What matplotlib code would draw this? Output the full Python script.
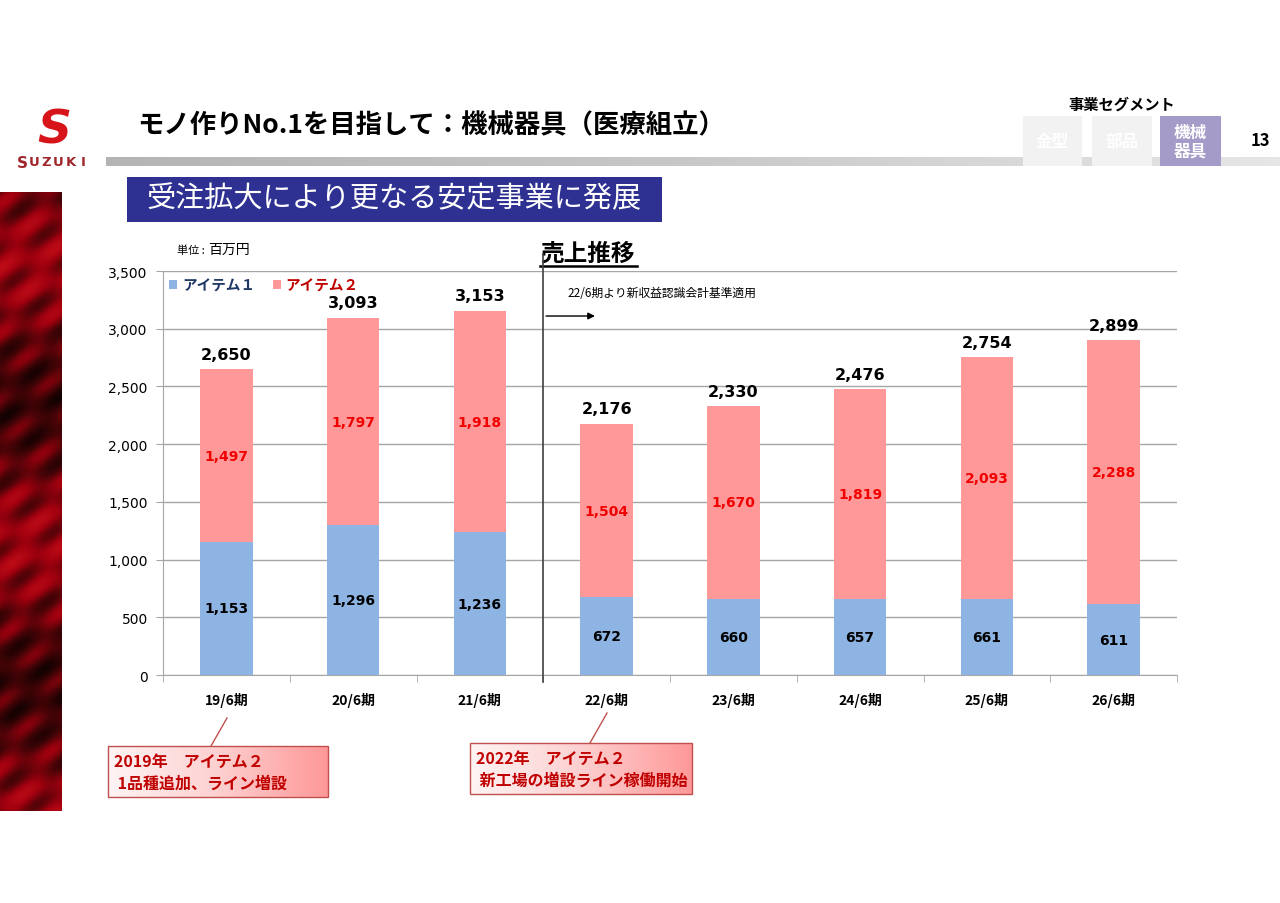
import numpy as np
import matplotlib.pyplot as plt
from matplotlib.patches import Rectangle
from matplotlib.colors import LinearSegmentedColormap

plt.rcParams['font.family'] = ['Noto Sans CJK JP', 'DejaVu Sans']

# ---------------------------------------------------------------------------
# Data
# ---------------------------------------------------------------------------
periods = ["19/6期", "20/6期", "21/6期", "22/6期", "23/6期", "24/6期", "25/6期", "26/6期"]
item1 = [1153, 1296, 1236, 672, 660, 657, 661, 611]
item2 = [1497, 1797, 1918, 1504, 1670, 1819, 2093, 2288]
totals = [2650, 3093, 3153, 2176, 2330, 2476, 2754, 2899]
series_names = ["アイテム１", "アイテム２"]
y_ticks = [0, 500, 1000, 1500, 2000, 2500, 3000, 3500]

C_BLUE = "#8EB4E3"
C_PINK = "#FF9999"
C_RED = "#F00000"
C_DARKRED = "#C00000"
NUM_FONT = ["DejaVu Sans"]

W, H = 1280, 904
fig = plt.figure(figsize=(W / 100, H / 100), dpi=100)

# background axes in pixel coordinates for the slide decoration
bg = fig.add_axes([0, 0, 1, 1])
bg.set_xlim(0, W)
bg.set_ylim(H, 0)
bg.axis("off")

# logo
bg.text(54, 131, "S", color="#D7141A", fontsize=34, fontweight="bold",
        style="italic", ha="center", va="center", family="DejaVu Sans")
for i, ch in enumerate("SUZUKI"):
    bg.text(22 + i * 12.2, 163, ch, color="#A0262B", fontsize=11 if i == 0 else 9.5,
            fontweight="bold", ha="center", va="center", family="DejaVu Sans")

# title
bg.text(137, 126, "モノ作りNo.1を目指して：機械器具（医療組立）", fontsize=19,
        fontweight="bold", ha="left", va="center", color="black")

# grey gradient rule
rule_cmap = LinearSegmentedColormap.from_list("rule", ["#B4B4B4", "#C8C8C8", "#E6E6E6"])
grad = np.linspace(0, 1, 256)[None, :]
bg.imshow(grad, extent=[106, W, 167, 158], cmap=rule_cmap, vmin=0, vmax=1,
          aspect="auto", zorder=1)

# segment tabs
bg.text(1122, 105, "事業セグメント", fontsize=11, fontweight="bold", ha="center", va="center")
for x0, x1, label, fc in [(1023, 1082, "金型", "#F2F2F2"), (1092, 1152, "部品", "#F2F2F2"),
                          (1160, 1221, "機械\n器具", "#A59BC8")]:
    bg.add_patch(Rectangle((x0, 117), x1 - x0, 50, fc=fc, ec="none", zorder=2))
    bg.text((x0 + x1) / 2, 142, label, fontsize=12, fontweight="bold", color="white",
            ha="center", va="center", linespacing=1.05, zorder=3)
bg.text(1260, 141, "13", fontsize=12, fontweight="bold", ha="center", va="center")

# blue banner
bg.add_patch(Rectangle((127, 178), 535, 45, fc="#2E3192", ec="none"))
bg.text(394, 199, "受注拡大により更なる安定事業に発展", fontsize=21, color="white",
        ha="center", va="center")

# decorative dark red strip on the left
strip_cmap = LinearSegmentedColormap.from_list("strip", ["#120202", "#4a0407", "#a0000f", "#c8101a"])
yy, xx = np.mgrid[0:620, 0:62]
pattern = (0.45 + 0.25 * np.sin((xx + 1.3 * yy) / 9.0) * np.cos((xx - yy) / 23.0)
           + 0.2 * np.sin(yy / 45.0))
bg.imshow(pattern, extent=[0, 62, 812, 193], cmap=strip_cmap, vmin=0.0, vmax=1.0,
          aspect="auto", zorder=1)

# unit and chart heading
bg.text(177, 251, "単位 : ", fontsize=8, ha="left", va="center")
bg.text(208, 250, "百万円", fontsize=10, ha="left", va="center")
bg.text(540, 254, "売上推移", fontsize=17, fontweight="bold", ha="left", va="center")
bg.plot([540, 637], [267, 267], color="black", lw=1.8)

# ---------------------------------------------------------------------------
# Chart
# ---------------------------------------------------------------------------
ax = fig.add_axes([163 / W, 1 - 676 / H, 1014 / W, 404 / H])
x = np.arange(len(periods))
ax.bar(x, item1, width=0.415, color=C_BLUE, zorder=3, label=series_names[0])
ax.bar(x, item2, width=0.415, bottom=item1, color=C_PINK, zorder=3, label=series_names[1])

for i in range(len(periods)):
    ax.text(x[i], item1[i] / 2, f"{item1[i]:,}", ha="center", va="center",
            fontsize=10, fontweight="bold", color="black", zorder=4, family=NUM_FONT)
    ax.text(x[i], item1[i] + item2[i] / 2, f"{item2[i]:,}", ha="center", va="center",
            fontsize=10, fontweight="bold", color=C_RED, zorder=4, family=NUM_FONT)
    ax.text(x[i], item1[i] + item2[i] + 65, f"{totals[i]:,}", ha="center", va="bottom",
            fontsize=11.5, fontweight="bold", color="black", zorder=4, family=NUM_FONT)

ax.set_xlim(-0.5, len(periods) - 0.5)
ax.set_ylim(0, 3500)
ax.set_yticks(y_ticks)
ax.set_yticklabels([f"{v:,}" for v in y_ticks], fontsize=10, family=NUM_FONT)
ax.yaxis.grid(True, color="#A6A6A6", lw=1, zorder=0)
ax.set_xticks(x)
ax.set_xticklabels(periods, fontsize=10, fontweight="bold")
ax.tick_params(axis="x", length=0, pad=12)
ax.set_xticks(np.arange(-0.5, len(periods)), minor=True)
ax.tick_params(axis="x", which="minor", length=5, color="#A6A6A6", direction="out")
ax.tick_params(axis="y", length=5, color="#A6A6A6", pad=6)
for side in ["top", "right"]:
    ax.spines[side].set_visible(False)
for side in ["left", "bottom"]:
    ax.spines[side].set_color("#A6A6A6")

# accounting standard divider
ax.plot([2.5, 2.5], [-60, 3645], color="#404040", lw=1.2, clip_on=False, zorder=5)
ax.annotate("", xy=(2.93, 3110), xytext=(2.5, 3110),
            arrowprops=dict(arrowstyle="-|>", color="black", lw=1, mutation_scale=10))
ax.text(2.69, 3310, "22/6期より新収益認識会計基準適用", fontsize=8.5, ha="left", va="center")

# legend
handles = [Rectangle((0, 0), 1, 1, fc=C_BLUE), Rectangle((0, 0), 1, 1, fc=C_PINK)]
leg = ax.legend(handles, series_names, loc="upper left", bbox_to_anchor=(0.0, 1.0),
                borderaxespad=0.0, ncol=2, frameon=False, handlelength=0.55,
                handleheight=0.55, handletextpad=0.35, columnspacing=1.2,
                prop=dict(size=10.5, weight="bold"))
leg.get_texts()[0].set_color("#1F3864")
leg.get_texts()[1].set_color(C_DARKRED)

# ---------------------------------------------------------------------------
# Call-out boxes
# ---------------------------------------------------------------------------
box_cmap = LinearSegmentedColormap.from_list("box", ["#FFF4F4", "#FDD0D0", "#FF9898"])
box_grad = np.linspace(0, 1, 256)[None, :]
for (x0, x1, y0, y1, lx0, ly0, lx1, ly1, lines) in [
        (108, 328, 747, 798, 227, 719, 211, 747, ["2019年　アイテム２", " 1品種追加、ライン増設"]),
        (470, 692, 744, 795, 607, 714, 590, 744, ["2022年　アイテム２", " 新工場の増設ライン稼働開始"])]:
    bg.imshow(box_grad, extent=[x0, x1, y1, y0], cmap=box_cmap, vmin=0, vmax=1,
              aspect="auto", zorder=2)
    bg.add_patch(Rectangle((x0, y0), x1 - x0, y1 - y0, fc="none", ec="#C0504D", lw=1, zorder=3))
    bg.plot([lx0, lx1], [ly0, ly1], color="#C0504D", lw=1, zorder=3)
    bg.text(x0 + 6, y0 + 15, lines[0], fontsize=11.5, fontweight="bold", color=C_DARKRED,
            ha="left", va="center", zorder=4)
    bg.text(x0 + 6, y0 + 37, lines[1], fontsize=11.5, fontweight="bold", color=C_DARKRED,
            ha="left", va="center", zorder=4)

fig.savefig("out.png", dpi=100)
